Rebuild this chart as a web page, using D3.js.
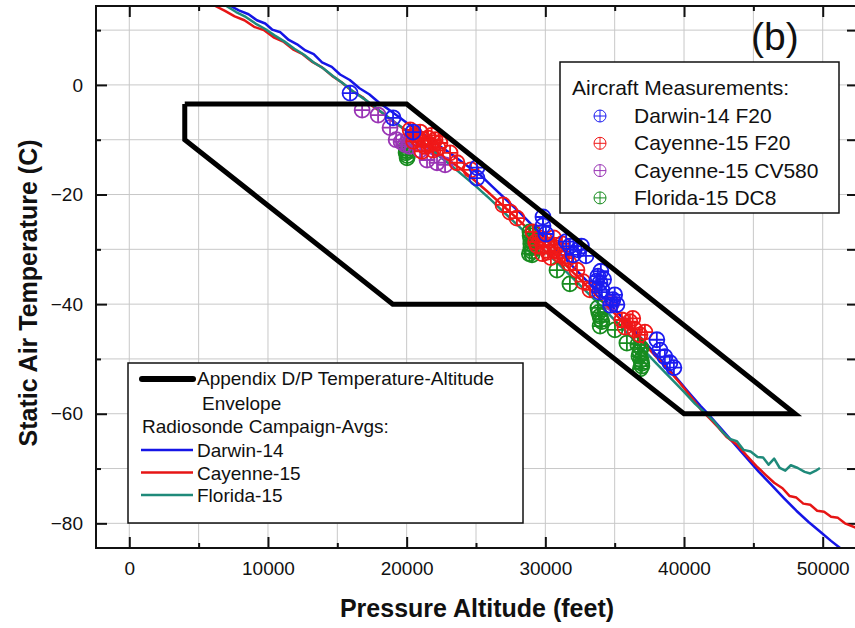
<!DOCTYPE html>
<html>
<head>
<meta charset="utf-8">
<script src="https://cdn.jsdelivr.net/npm/d3@7"></script>
<style>
  body { margin: 0; background: #fff; }
  text { font-family: Arial, "Liberation Sans", sans-serif; fill: #111; }
</style>
</head>
<body>
<svg width="855" height="628"></svg>
<script>
// axis ticks
var xTicks = [0, 10000, 20000, 30000, 40000, 50000];
var xMinor = [5000, 15000, 25000, 35000, 45000];
var yTicks = [0, -20, -40, -60, -80];
var yMinor = [10, -10, -30, -50, -70];

// Appendix D/P envelope [altitude ft, temperature C]
var envelope = [[4000, -3.5], [20000, -3.5], [48000, -60], [40000, -60], [30000, -40],
  [19000, -40], [4000, -10], [4000, -3.5]];

// radiosonde campaign averages
var darwinRaob = [[7300,14.4],[7900,13.6],[8600,12.9],[9200,11.8],[9800,11.2],[10300,10.1],[10900,9.6],
  [11500,8.2],[12100,7.4],[12700,6.3],[13300,5.6],[13900,4.1],[14600,3.3],[15200,1.9],[15900,0.9],
  [16600,-0.6],[17300,-1.7],[18000,-3.2],[18600,-4.3],[19300,-5.6],[20000,-6.9],[20800,-8.2],
  [21500,-9.5],[22300,-11.0],[23100,-12.4],[23850,-13.8],[24600,-15.2],[25300,-16.4],[26200,-18.6],
  [27200,-21.0],[28200,-23.4],[29200,-26.0],[30200,-28.5],[31200,-31.1],[32200,-33.7],[33200,-36.3],
  [34200,-38.9],[35200,-41.5],[36200,-44.2],[37200,-47.0],[38200,-49.8],[39300,-53.0],[40300,-56.0],
  [41200,-58.6],[41900,-60.5],[42700,-62.8],[43600,-65.4],[44500,-68.0],[45400,-70.6],[46300,-73.0],
  [47200,-75.4],[48100,-77.7],[49000,-79.8],[49800,-81.5],[50600,-83.2],[51300,-84.6]];
var cayenneRaob = [[6200,14.4],[6900,13.5],[7600,12.5],[8300,11.8],[9000,10.6],[9700,10.0],[10400,8.7],
  [11100,7.9],[11800,6.5],[12500,5.6],[13200,4.2],[13900,3.2],[14600,1.7],[15300,0.5],[16000,-1.0],
  [16800,-2.2],[17500,-3.8],[18300,-5.2],[19100,-6.8],[19900,-8.2],[20700,-9.6],[21500,-11.0],
  [22300,-12.5],[23100,-13.9],[23900,-15.3],[24800,-17.2],[25800,-19.4],[26800,-21.7],[27800,-24.0],
  [28800,-26.4],[29800,-28.8],[30800,-31.2],[31800,-33.7],[32800,-36.2],[33800,-38.7],[34800,-41.2],
  [35800,-43.8],[36800,-46.4],[37800,-49.1],[38800,-51.8],[39700,-54.4],[40500,-56.9],[41200,-59.2],
  [41900,-61.0],[42500,-62.6],[43100,-64.3],[43800,-65.6],[44500,-67.6],[45200,-69.5],[45900,-71.2],
  [46500,-72.6],[47100,-73.6],[47600,-75.0],[48100,-75.3],[48600,-76.4],[49100,-76.6],[49600,-77.7],
  [50100,-77.9],[50600,-78.8],[51100,-79.0],[51600,-80.0],[52400,-80.8]];
var floridaRaob = [[7000,14.4],[7700,13.3],[8400,12.4],[9100,11.2],[9800,10.2],[10500,9.0],[11200,7.9],
  [11900,6.6],[12600,5.5],[13300,4.1],[14000,3.0],[14700,1.6],[15400,0.3],[16100,-1.1],[16900,-2.5],
  [17700,-4.0],[18500,-5.6],[19300,-7.1],[20100,-8.6],[20900,-10.2],[21700,-11.7],[22500,-13.3],
  [23300,-14.9],[24100,-16.6],[25000,-18.5],[26000,-20.8],[27000,-23.2],[28000,-25.6],[29000,-28.0],
  [30000,-30.4],[31000,-32.8],[32000,-35.3],[33000,-37.8],[34000,-40.3],[35000,-42.9],[36000,-45.5],
  [37000,-48.1],[38000,-50.8],[39000,-53.4],[40000,-56.0],[40800,-58.2],[41500,-59.8],[42200,-61.5],
  [42800,-63.4],[43300,-64.6],[43800,-65.0],[44300,-66.6],[44800,-66.9],[45300,-67.9],[45700,-68.0],
  [46100,-69.3],[46500,-68.2],[46900,-69.9],[47300,-70.4],[47700,-69.4],[48200,-69.9],[48700,-70.6],
  [49100,-70.9],[49500,-70.4],[49800,-69.9]];

// aircraft measurements
var darwinF20 = [[15920,-1.5],[19020,-6.0],[20460,-8.6],[25070,-15.1],[25070,-17.0],[29830,-24.1],
  [29830,-25.7],[30040,-27.2],[31500,-28.6],[31770,-29.4],[32000,-31.0],[32350,-30.1],[32600,-29.4],
  [32930,-31.2],[33700,-35.8],[33790,-34.9],[34000,-34.0],[34200,-35.5],[33940,-36.1],[33900,-37.8],
  [34080,-37.4],[34870,-39.2],[35000,-38.3],[34700,-40.2],[35160,-40.1],[38040,-46.5],[38260,-48.4],
  [38620,-49.6],[38980,-50.7],[39270,-51.6]];
var cayenneF20 = [[20250,-8.2],[20610,-9.1],[20970,-8.6],[21180,-10.0],[21540,-9.7],[21690,-10.9],
  [22050,-10.0],[22260,-11.5],[21900,-11.9],[20800,-9.8],[21300,-11.2],[21800,-9.2],[22400,-10.6],
  [20500,-10.3],[21100,-12.1],[23130,-12.4],[23630,-14.2],[24640,-15.5],[26950,-21.9],[27450,-23.2],
  [27950,-24.3],[29110,-26.8],[29300,-28.7],[29400,-29.3],[29610,-27.9],[29800,-30.8],[29970,-28.3],
  [30330,-29.2],[30400,-31.5],[30600,-27.9],[30690,-29.7],[30190,-30.5],[30900,-30.4],[31050,-31.0],
  [31200,-29.0],[31410,-31.6],[31700,-32.5],[32280,-33.8],[32710,-35.9],[33220,-37.4],[35520,-42.9],
  [35740,-44.2],[36100,-43.2],[36460,-44.7],[36820,-45.6],[37180,-45.1],[36300,-42.6]];
var cayenneCV580 = [[16790,-4.6],[17940,-5.5],[18800,-7.8],[19240,-10.0],[19600,-10.4],[19890,-10.9],
  [20200,-11.2],[20390,-9.7],[20970,-11.9],[21470,-13.7],[22190,-14.2],[22770,-14.6],[34800,-39.8]];
var floridaDC8 = [[19960,-11.5],[19980,-12.0],[19960,-12.4],[20050,-12.9],[20030,-13.3],[28890,-26.8],
  [29100,-27.0],[28900,-27.5],[28960,-28.3],[28950,-29.0],[28960,-29.7],[29000,-30.3],[28850,-30.8],
  [29040,-31.0],[30840,-33.8],[31770,-36.3],[33790,-40.7],[33850,-41.5],[33940,-42.2],[34000,-42.8],
  [34080,-43.2],[33950,-44.0],[35020,-44.7],[35880,-47.1],[36670,-47.4],[36820,-48.7],[36900,-48.0],
  [36750,-49.5],[36890,-50.2],[36950,-50.8],[36960,-51.3],[36850,-51.8]];

var lineSeries = [
  { name: "Darwin-14", data: darwinRaob, color: "#1515e6" },
  { name: "Cayenne-15", data: cayenneRaob, color: "#e61515" },
  { name: "Florida-15", data: floridaRaob, color: "#1f8a7a" }
];
var markerSeries = [
  { name: "Florida-15 DC8", data: floridaDC8, color: "#178c1f" },
  { name: "Cayenne-15 CV580", data: cayenneCV580, color: "#9a35b5" },
  { name: "Cayenne-15 F20", data: cayenneF20, color: "#f01818" },
  { name: "Darwin-14 F20", data: darwinF20, color: "#1c1cf0" }
];

var plotLeft = 96, plotRight = 856, plotTop = 6, plotBottom = 548;
var svg = d3.select("svg");

var x = d3.scaleLinear().domain([-2400, 52400]).range([plotLeft, plotRight]);
var y = d3.scaleLinear().domain([-84.5, 14.4]).range([plotBottom, plotTop]);

svg.append("defs").append("clipPath").attr("id", "plotclip")
  .append("rect").attr("x", plotLeft).attr("y", plotTop)
  .attr("width", plotRight - plotLeft).attr("height", plotBottom - plotTop);

// grid
var grid = svg.append("g").attr("stroke", "#c8c8c8").attr("stroke-width", 1);
grid.selectAll(".gx").data(xTicks.concat(xMinor)).enter().append("line")
  .attr("x1", (d) => x(d)).attr("x2", (d) => x(d))
  .attr("y1", plotTop).attr("y2", plotBottom);
grid.selectAll(".gy").data(yTicks.concat(yMinor)).enter().append("line")
  .attr("x1", plotLeft).attr("x2", plotRight)
  .attr("y1", (d) => y(d)).attr("y2", (d) => y(d));

// axes, ticks pointing inward
function styleAxis(g) {
  g.select(".domain").remove();
  g.selectAll("line").attr("stroke", "#111").attr("stroke-width", 2);
  g.selectAll("text").attr("font-size", 19).attr("font-family", "Arial, 'Liberation Sans', sans-serif").attr("fill", "#222");
}
svg.append("g").attr("transform", `translate(0,${plotBottom})`)
  .call(d3.axisBottom(x).tickValues(xTicks).tickSize(-11).tickPadding(14).tickFormat(d3.format("d")))
  .call(styleAxis);
svg.append("g").attr("transform", `translate(0,${plotBottom})`)
  .call(d3.axisBottom(x).tickValues(xMinor).tickSize(-5).tickFormat(""))
  .call(styleAxis);
svg.append("g").attr("transform", `translate(0,${plotTop})`)
  .call(d3.axisTop(x).tickValues(xTicks).tickSize(-11).tickFormat(""))
  .call(styleAxis);
svg.append("g").attr("transform", `translate(0,${plotTop})`)
  .call(d3.axisTop(x).tickValues(xMinor).tickSize(-5).tickFormat(""))
  .call(styleAxis);
svg.append("g").attr("transform", `translate(${plotLeft},0)`)
  .call(d3.axisLeft(y).tickValues(yTicks).tickSize(-11).tickPadding(13).tickFormat(d3.format("d")))
  .call(styleAxis);
svg.append("g").attr("transform", `translate(${plotLeft},0)`)
  .call(d3.axisLeft(y).tickValues(yMinor).tickSize(-5).tickFormat(""))
  .call(styleAxis);
svg.append("g").attr("transform", `translate(${plotRight},0)`)
  .call(d3.axisRight(y).tickValues(yTicks.concat(yMinor)).tickSize(-9).tickFormat(""))
  .call(styleAxis);

var plot = svg.append("g").attr("clip-path", "url(#plotclip)");

// radiosonde lines
var line = d3.line().x((d) => x(d[0])).y((d) => y(d[1]));
plot.selectAll(".raob").data(lineSeries).enter().append("path")
  .attr("d", (d) => line(d.data))
  .attr("fill", "none")
  .attr("stroke", (d) => d.color)
  .attr("stroke-width", 2.5)
  .attr("stroke-linejoin", "round");

// aircraft markers (circle with cross)
function drawMarker(sel, r, color, sw) {
  sel.append("circle").attr("r", r).attr("fill", "none")
    .attr("stroke", color).attr("stroke-width", sw);
  sel.append("path").attr("d", `M${-r},0H${r}M0,${-r}V${r}`)
    .attr("stroke", color).attr("stroke-width", sw);
}
markerSeries.forEach(function (s) {
  plot.append("g").selectAll("g").data(s.data).enter().append("g")
    .attr("transform", (d) => `translate(${x(d[0])},${y(d[1])})`)
    .each(function () { drawMarker(d3.select(this), 7.5, s.color, 1.8); });
});

// envelope
plot.append("path")
  .attr("d", line(envelope))
  .attr("fill", "none")
  .attr("stroke", "#000")
  .attr("stroke-width", 5)
  .attr("stroke-linejoin", "miter");

// frame
svg.append("rect").attr("x", plotLeft).attr("y", plotTop)
  .attr("width", plotRight - plotLeft).attr("height", plotBottom - plotTop)
  .attr("fill", "none").attr("stroke", "#111").attr("stroke-width", 2);

// panel label
svg.append("text").attr("x", 751).attr("y", 50)
  .attr("font-size", 39).text("(b)");

// axis titles
svg.append("text").attr("x", 477).attr("y", 617)
  .attr("text-anchor", "middle").attr("font-size", 25).attr("font-weight", "bold")
  .text("Pressure Altitude (feet)");
svg.append("text").attr("transform", "translate(37,293) rotate(-90)")
  .attr("text-anchor", "middle").attr("font-size", 25).attr("font-weight", "bold")
  .text("Static Air Temperature (C)");

// aircraft legend
var leg1 = svg.append("g");
leg1.append("rect").attr("x", 560).attr("y", 62).attr("width", 279).attr("height", 151)
  .attr("fill", "#fff").attr("stroke", "#111").attr("stroke-width", 1.5);
leg1.append("text").attr("x", 572).attr("y", 95).attr("font-size", 21).text("Aircraft Measurements:");
markerSeries.slice().reverse().forEach(function (s, i) {
  var by = 123 + i * 27.3;
  var g = leg1.append("g").attr("transform", `translate(600,${by - 7})`);
  drawMarker(g, 6, s.color, 1);
  leg1.append("text").attr("x", 634).attr("y", by).attr("font-size", 21).text(s.name);
});

// radiosonde legend
var leg2 = svg.append("g");
leg2.append("rect").attr("x", 128).attr("y", 363).attr("width", 395).attr("height", 160)
  .attr("fill", "#fff").attr("stroke", "#111").attr("stroke-width", 1.5);
leg2.append("line").attr("x1", 142).attr("x2", 193).attr("y1", 379).attr("y2", 379)
  .attr("stroke", "#000").attr("stroke-width", 6).attr("stroke-linecap", "round");
leg2.append("text").attr("x", 197).attr("y", 385).attr("font-size", 19).text("Appendix D/P Temperature-Altitude");
leg2.append("text").attr("x", 202).attr("y", 410).attr("font-size", 19).text("Envelope");
leg2.append("text").attr("x", 142).attr("y", 433).attr("font-size", 19).text("Radiosonde Campaign-Avgs:");
lineSeries.forEach(function (s, i) {
  var by = 457 + i * 22.5;
  leg2.append("line").attr("x1", 141).attr("x2", 193).attr("y1", by - 7).attr("y2", by - 7)
    .attr("stroke", s.color).attr("stroke-width", 2.5);
  leg2.append("text").attr("x", 197).attr("y", by).attr("font-size", 19).text(s.name);
});
</script>
</body>
</html>
